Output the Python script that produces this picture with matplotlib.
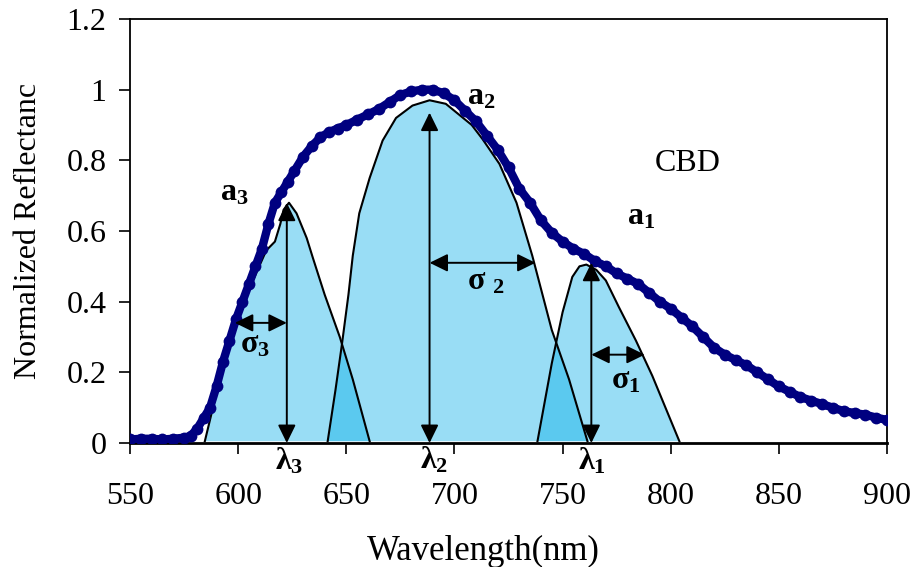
import matplotlib
matplotlib.use('Agg')
import matplotlib.pyplot as plt

plt.rcParams['font.family'] = ['Liberation Serif', 'DejaVu Serif']
plt.rcParams['mathtext.fontset'] = 'custom'
plt.rcParams['mathtext.rm'] = 'Liberation Serif'
plt.rcParams['mathtext.bf'] = 'Liberation Serif:bold'
plt.rcParams['mathtext.it'] = 'Liberation Serif:italic'

wavelength = [550, 555, 560, 565, 570, 575, 578, 581, 584, 587, 590, 593, 596, 599,
              602, 605, 608, 611, 614, 617, 620, 623, 626, 630, 634, 638, 642, 646,
              650, 655, 660, 665, 670, 675, 680, 685, 690, 695, 700, 705, 710, 715,
              720, 725, 730, 735, 740, 745, 750, 755, 760, 765, 770, 775, 780, 785,
              790, 795, 800, 805, 810, 815, 820, 825, 830, 835, 840, 845, 850, 855,
              860, 865, 870, 875, 880, 885, 890, 895, 900]
reflectance = [0.010, 0.012, 0.012, 0.010, 0.012, 0.015, 0.020, 0.040, 0.070, 0.100,
               0.160, 0.230, 0.290, 0.350, 0.400, 0.450, 0.500, 0.550, 0.620, 0.680,
               0.710, 0.740, 0.770, 0.810, 0.840, 0.865, 0.880, 0.890, 0.900, 0.915,
               0.930, 0.945, 0.965, 0.985, 0.995, 1.000, 1.000, 0.990, 0.970, 0.940,
               0.910, 0.870, 0.830, 0.780, 0.720, 0.680, 0.630, 0.595, 0.570, 0.550,
               0.535, 0.515, 0.500, 0.480, 0.465, 0.450, 0.425, 0.400, 0.380, 0.355,
               0.330, 0.300, 0.270, 0.250, 0.235, 0.220, 0.200, 0.180, 0.160, 0.145,
               0.130, 0.120, 0.110, 0.100, 0.090, 0.085, 0.080, 0.072, 0.065]

# Fitted peak outlines
peak3_x = [584.6, 591.5, 598.5, 605.4, 613.0, 617.0, 619.5, 621.0, 623.5, 627.0,
           631.7, 634.5, 640.0, 647.0, 653.0, 660.8]
peak3_y = [0.005, 0.18, 0.34, 0.44, 0.545, 0.57, 0.62, 0.66, 0.68, 0.65,
           0.58, 0.525, 0.42, 0.30, 0.18, 0.005]
peak2_x = [641.4, 645.0, 648.0, 651.0, 653.0, 656.0, 660.8, 666.8, 673.0, 680.6,
           688.5, 696.0, 702.0, 708.0, 713.0, 720.8, 728.7, 736.0, 745.0, 753.0,
           761.5]
peak2_y = [0.005, 0.15, 0.28, 0.42, 0.53, 0.65, 0.75, 0.856, 0.92, 0.955,
           0.97, 0.96, 0.93, 0.90, 0.86, 0.79, 0.68, 0.53, 0.32, 0.18,
           0.005]
peak1_x = [738.4, 745.0, 750.0, 754.5, 757.8, 761.0, 765.6, 770.0, 776.0, 783.9,
           791.5, 804.0]
peak1_y = [0.005, 0.225, 0.37, 0.47, 0.50, 0.505, 0.49, 0.46, 0.385, 0.29,
           0.19, 0.005]

# Peak parameters (centres, heights, sigma arrows)
lambda_pos = [763.3, 688.5, 622.5]
amp_top = [0.51, 0.935, 0.68]
sigma_end = [788.0, 737.5, 598.5]
sigma_level = [0.25, 0.51, 0.34]

xticks = [550, 600, 650, 700, 750, 800, 850, 900]
yticks = [0, 0.2, 0.4, 0.6, 0.8, 1.0, 1.2]
ytick_labels = ['0', '0.2', '0.4', '0.6', '0.8', '1', '1.2']

fig = plt.figure(figsize=(9.16, 5.67), dpi=100)
ax = fig.add_axes([130/916, 1-443/567, (887-130)/916, (443-19)/567])

fill_color = (0.0, 0.675, 0.905)
for px, py in [(peak3_x, peak3_y), (peak2_x, peak2_y), (peak1_x, peak1_y)]:
    ax.fill(px, py, facecolor=fill_color, alpha=0.40, edgecolor='none', zorder=1)
    ax.plot(px, py, color='black', lw=1.5, zorder=2)

ax.plot(wavelength, reflectance, color='#000080', lw=6, marker='o',
        markersize=8.5, markeredgewidth=0, solid_capstyle='round', zorder=3)

arrow_kw = dict(arrowstyle='<|-|>,head_length=0.55,head_width=0.27', color='black',
                lw=1.4, mutation_scale=20, shrinkA=0, shrinkB=0)
for lx, top in zip(lambda_pos, amp_top):
    ax.annotate('', xy=(lx, top), xytext=(lx, 0.0), arrowprops=arrow_kw, zorder=4)
for lx, se, lev in zip(lambda_pos, sigma_end, sigma_level):
    ax.annotate('', xy=(se, lev), xytext=(lx, lev), arrowprops=arrow_kw, zorder=4)

fs = 23
ax.text(591.5, 0.686, r'$\mathbf{a}_{\mathbf{3}}$', fontsize=fs)
ax.text(705.6, 0.958, r'$\mathbf{a}_{\mathbf{2}}$', fontsize=fs)
ax.text(780.0, 0.619, r'$\mathbf{a}_{\mathbf{1}}$', fontsize=fs)
ax.text(600.8, 0.257, r'$\mathbf{σ}_{\mathbf{3}}$', fontsize=fs)
ax.text(706.0, 0.435, r'$\mathbf{σ}\ {}_{\mathbf{2}}$', fontsize=fs)
ax.text(772.5, 0.155, r'$\mathbf{σ}_{\mathbf{1}}$', fontsize=fs)
ax.text(617.0, -0.076, r'$\mathbf{λ}_{\mathbf{3}}$', fontsize=fs, clip_on=False)
ax.text(684.3, -0.071, r'$\mathbf{λ}_{\mathbf{2}}$', fontsize=fs, clip_on=False)
ax.text(757.3, -0.076, r'$\mathbf{λ}_{\mathbf{1}}$', fontsize=fs, clip_on=False)
ax.text(792.4, 0.771, 'CBD', fontsize=23)

ax.set_xlim(550, 900)
ax.set_ylim(0, 1.2)
ax.set_xticks(xticks)
ax.set_yticks(yticks)
ax.set_yticklabels(ytick_labels)
ax.tick_params(direction='out', length=8, width=1.2, labelsize=23)
ax.tick_params(axis='x', pad=20)
ax.tick_params(axis='y', pad=9)
for s in ax.spines.values():
    s.set_linewidth(1.3)
ax.spines['bottom'].set_linewidth(2)
ax.set_xlabel('Wavelength(nm)', fontsize=25)
ax.xaxis.set_label_coords((483-130)/757, (443-535)/424)
ax.set_ylabel('Normalized Reflectanc', fontsize=23, labelpad=17)

fig.savefig('out.png', dpi=100)
